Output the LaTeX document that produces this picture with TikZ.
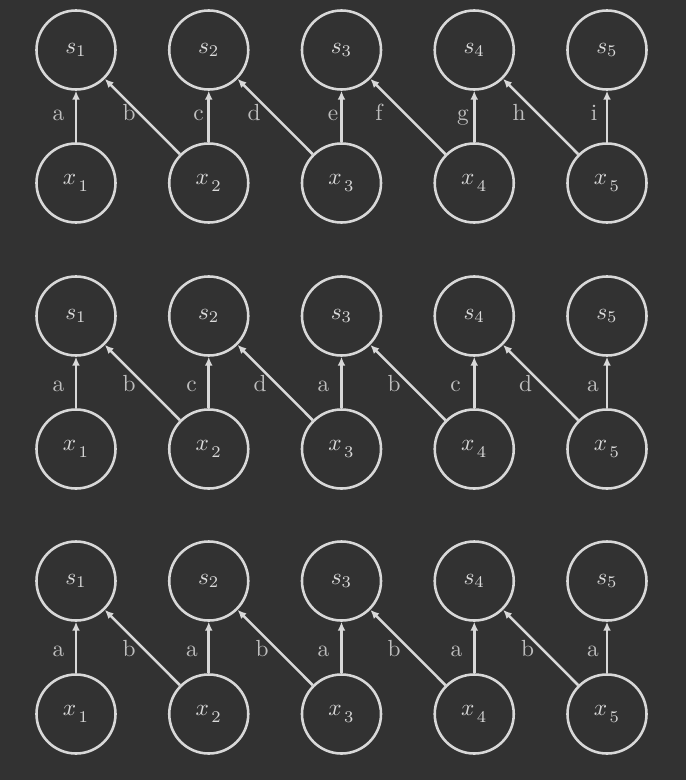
\documentclass[tikz,border=0pt]{standalone}
\usetikzlibrary{arrows.meta}
\definecolor{bgc}{HTML}{323232}
\definecolor{linec}{HTML}{D8D8D8}
\definecolor{txtc}{HTML}{DADADA}
\definecolor{lblc}{HTML}{BEBEBE}
\newcommand{\xv}[1]{$x\mkern2mu{}_{\lower1.5pt\hbox{$\scriptstyle #1$}}$}
\begin{document}
\begin{tikzpicture}[x=0.015066cm,y=-0.015066cm,
  var/.style={circle,draw=linec,line width=1.1pt,minimum size=1.19cm,inner sep=0pt,text=txtc},
  edge/.style={draw=linec,line width=1.1pt,-{Latex[length=3.8pt,width=3.4pt]}},
  lbl/.style={text=lblc,anchor=base,inner sep=0pt}]
\fill[bgc] (0,0) rectangle (686,780);
\useasboundingbox (0,0) rectangle (686,780);
% row centres
\def\sA{50}\def\xA{183}
\def\sB{316}\def\xB{449}
\def\sC{581}\def\xC{714}
\foreach \r/\sy/\xy in {A/\sA/\xA, B/\sB/\xB, C/\sC/\xC}{
  \foreach \i/\cx in {1/76,2/208.75,3/341.5,4/474.25,5/607}{
    \node[var] (s\r\i) at (\cx,\sy) {$s_{\i}$};
    \node[var] (x\r\i) at (\cx,\xy) {\xv{\i}};
  }
}
% block A
\draw[edge] (xA1) -- (sA1);
\draw[edge] (xA2) -- (sA1);
\draw[edge] (xA2) -- (sA2);
\draw[edge] (xA3) -- (sA2);
\draw[edge] (xA3) -- (sA3);
\draw[edge] (xA4) -- (sA3);
\draw[edge] (xA4) -- (sA4);
\draw[edge] (xA5) -- (sA4);
\draw[edge] (xA5) -- (sA5);
\foreach \t/\lx in {a/58.5,b/129,c/198.5,d/254,e/333,f/379,g/463,h/519,i/594}
  \node[lbl] (lA\t) at (\lx,120) {\t};
% block B
\draw[edge] (xB1) -- (sB1);
\draw[edge] (xB2) -- (sB1);
\draw[edge] (xB2) -- (sB2);
\draw[edge] (xB3) -- (sB2);
\draw[edge] (xB3) -- (sB3);
\draw[edge] (xB4) -- (sB3);
\draw[edge] (xB4) -- (sB4);
\draw[edge] (xB5) -- (sB4);
\draw[edge] (xB5) -- (sB5);
\foreach \n/\t/\lx in {1/a/58.5,2/b/129,3/c/191.5,4/d/260,5/a/323.5,6/b/394,7/c/455.5,8/d/525.5,9/a/593}
  \node[lbl] (lB\n) at (\lx,391) {\t};
% block C
\draw[edge] (xC1) -- (sC1);
\draw[edge] (xC2) -- (sC1);
\draw[edge] (xC2) -- (sC2);
\draw[edge] (xC3) -- (sC2);
\draw[edge] (xC3) -- (sC3);
\draw[edge] (xC4) -- (sC3);
\draw[edge] (xC4) -- (sC4);
\draw[edge] (xC5) -- (sC4);
\draw[edge] (xC5) -- (sC5);
\foreach \n/\t/\lx in {1/a/58.5,2/b/129,3/a/192,4/b/262,5/a/323.5,6/b/394,7/a/456.5,8/b/527.5,9/a/593}
  \node[lbl] (lC\n) at (\lx,656) {\t};
\end{tikzpicture}
\end{document}
